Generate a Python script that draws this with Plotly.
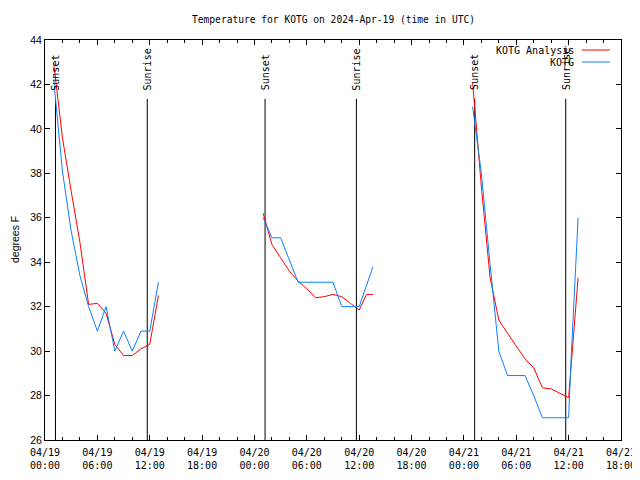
import plotly.graph_objects as go

title_text = "Temperature for KOTG on 2024-Apr-19 (time in UTC)"
y_title = "degrees F"
analysis_name = "KOTG Analysis"
obs_name = "KOTG"

analysis_times = [
    "2024-04-19 01:00", "2024-04-19 02:00", "2024-04-19 03:00", "2024-04-19 04:00",
    "2024-04-19 05:00", "2024-04-19 06:00", "2024-04-19 07:00", "2024-04-19 08:00",
    "2024-04-19 09:00", "2024-04-19 10:00", "2024-04-19 11:00", "2024-04-19 12:00",
    "2024-04-19 13:00", None,
    "2024-04-20 01:00", "2024-04-20 02:00", "2024-04-20 03:00", "2024-04-20 04:00",
    "2024-04-20 05:00", "2024-04-20 06:00", "2024-04-20 07:00", "2024-04-20 08:00",
    "2024-04-20 09:00", "2024-04-20 10:00", "2024-04-20 11:00", "2024-04-20 12:00",
    "2024-04-20 12:50", "2024-04-20 13:35", None,
    "2024-04-21 01:00", "2024-04-21 02:00", "2024-04-21 03:00", "2024-04-21 04:00",
    "2024-04-21 05:00", "2024-04-21 06:00", "2024-04-21 07:00", "2024-04-21 08:00",
    "2024-04-21 09:00", "2024-04-21 10:00", "2024-04-21 11:00", "2024-04-21 12:00",
    "2024-04-21 13:05",
]
analysis_temps = [
    42.95, 39.6, 37.2, 34.9, 32.1, 32.15, 31.7, 30.3, 29.8, 29.8, 30.1, 30.3, 32.5, None,
    36.2, 34.8, 34.2, 33.6, 33.15, 32.8, 32.4, 32.45, 32.55, 32.45, 32.15, 31.85, 32.55, 32.55, None,
    42.1, 37.4, 33.3, 31.4, 30.8, 30.2, 29.65, 29.25, 28.35, 28.3, 28.1, 27.9, 33.3,
]

obs_times = [
    "2024-04-19 01:00", "2024-04-19 02:00", "2024-04-19 03:00", "2024-04-19 04:00",
    "2024-04-19 05:00", "2024-04-19 06:00", "2024-04-19 07:00", "2024-04-19 08:00",
    "2024-04-19 09:00", "2024-04-19 10:00", "2024-04-19 11:00", "2024-04-19 12:00",
    "2024-04-19 13:00", None,
    "2024-04-20 01:00", "2024-04-20 02:00", "2024-04-20 03:00", "2024-04-20 04:00",
    "2024-04-20 05:00", "2024-04-20 06:00", "2024-04-20 07:00", "2024-04-20 08:00",
    "2024-04-20 09:00", "2024-04-20 10:00", "2024-04-20 11:00", "2024-04-20 12:00",
    "2024-04-20 13:35", None,
    "2024-04-21 01:00", "2024-04-21 02:00", "2024-04-21 03:00", "2024-04-21 04:00",
    "2024-04-21 05:00", "2024-04-21 06:00", "2024-04-21 07:00", "2024-04-21 08:00",
    "2024-04-21 09:00", "2024-04-21 10:00", "2024-04-21 11:00", "2024-04-21 12:00",
    "2024-04-21 12:15", "2024-04-21 12:30", "2024-04-21 12:50", "2024-04-21 13:05",
]
obs_temps = [
    42.2, 38.1, 35.4, 33.4, 32.0, 30.9, 32.0, 30.0, 30.9, 30.0, 30.9, 30.9, 33.1, None,
    36.0, 35.1, 35.1, 34.1, 33.1, 33.1, 33.1, 33.1, 33.1, 32.0, 32.0, 32.0, 33.8, None,
    41.0, 38.0, 33.9, 30.0, 28.9, 28.9, 28.9, 28.0, 27.0, 27.0, 27.0, 27.0,
    29.4, 31.4, 33.5, 36.0,
]

sun_times = [
    "2024-04-19 01:12", "2024-04-19 11:43",
    "2024-04-20 01:13", "2024-04-20 11:41",
    "2024-04-21 01:14", "2024-04-21 11:40",
]
sun_labels = ["Sunset", "Sunrise", "Sunset", "Sunrise", "Sunset", "Sunrise"]
sun_line_top = 41.35
sun_label_base = 41.65

x_range = ["2024-04-19 00:00", "2024-04-21 18:00"]
y_range = [26, 44]

RED = "#ff0000"
BLUE = "#0a80ff"
MONO = "DejaVu Sans Mono"
SANS = "Liberation Sans, Arial"

fig = go.Figure()

for t in sun_times:
    fig.add_trace(go.Scatter(x=[t, t], y=[y_range[0], sun_line_top], mode="lines",
                             line=dict(color="black", width=1), showlegend=False,
                             hoverinfo="skip"))

fig.add_trace(go.Scatter(x=analysis_times, y=analysis_temps, mode="lines",
                         name=analysis_name, line=dict(color=RED, width=1),
                         connectgaps=False, showlegend=False))
fig.add_trace(go.Scatter(x=obs_times, y=obs_temps, mode="lines",
                         name=obs_name, line=dict(color=BLUE, width=1),
                         connectgaps=False, showlegend=False))

annotations = []
for t, lab in zip(sun_times, sun_labels):
    annotations.append(dict(x=t, y=sun_label_base, xref="x", yref="y", text=lab,
                            textangle=-90, showarrow=False, xanchor="center",
                            yanchor="bottom", font=dict(family=MONO, size=10, color="black")))

annotations.append(dict(x=-0.052, y=0.5, xref="paper", yref="paper", text=y_title,
                        textangle=-90, showarrow=False, xanchor="center", yanchor="middle",
                        font=dict(family=SANS, size=10.5, color="black")))

annotations.append(dict(x=0.5, y=1.0525, xref="paper", yref="paper", text=title_text,
                        showarrow=False, xanchor="center", yanchor="middle",
                        font=dict(family=MONO, size=9.6, color="black")))

legend_items = [(analysis_name, RED, 0.975), (obs_name, BLUE, 0.945)]
shapes = []
for name, col, yp in legend_items:
    annotations.append(dict(x=0.922, y=yp, xref="paper", yref="paper", text=name,
                            showarrow=False, xanchor="right", yanchor="middle",
                            font=dict(family=MONO, size=10, color="black")))
    shapes.append(dict(type="line", xref="paper", yref="paper", x0=0.932, x1=0.981,
                       y0=yp, y1=yp, line=dict(color=col, width=1)))

# the page body adds an 8px offset, so the figure is sized to fit inside the window
fig.update_layout(
    width=632, height=464,
    margin=dict(l=37, r=19, t=32, b=32, autoexpand=False),
    paper_bgcolor="white", plot_bgcolor="white",
    annotations=annotations, shapes=shapes,
    showlegend=False,
)

fig.update_xaxes(
    type="date", range=x_range, dtick=6 * 3600 * 1000, tick0="2024-04-19 00:00",
    tickformat="%m/%d<br>%H:%M", ticks="inside", ticklen=5, tickcolor="black",
    showline=True, linecolor="black", linewidth=1, mirror="allticks",
    showgrid=False, zeroline=False, automargin=False, ticklabelstandoff=3,
    tickfont=dict(family=MONO, size=10, color="black"),
    minor=dict(ticks="inside", ticklen=3, dtick=2 * 3600 * 1000, tickcolor="black",
               showgrid=False),
)
fig.update_yaxes(
    range=y_range, dtick=2, ticks="inside", ticklen=5, tickcolor="black",
    showline=True, linecolor="black", linewidth=1, mirror="allticks",
    showgrid=False, zeroline=False, automargin=False,
    tickfont=dict(family=SANS, size=10.5, color="black"),
)

fig.write_html("out.html")
